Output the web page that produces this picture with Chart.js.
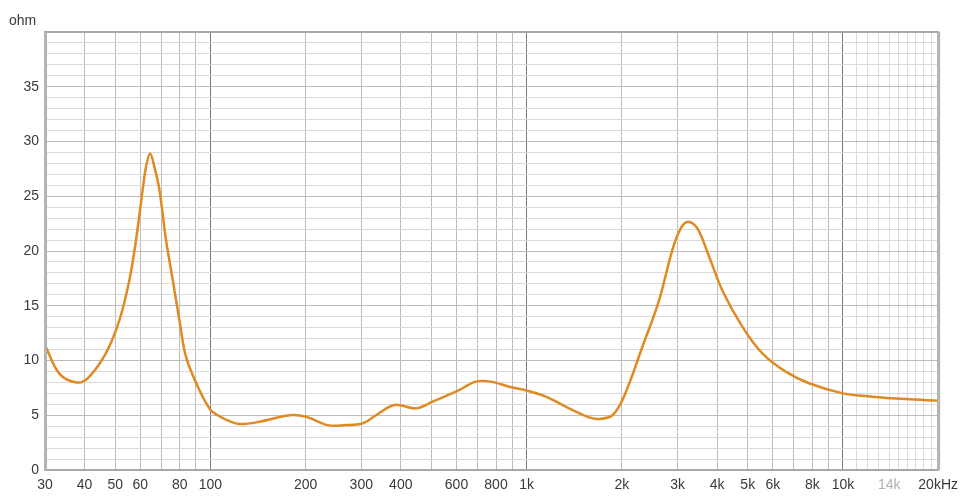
<!DOCTYPE html>
<html>
<head>
<meta charset="utf-8">
<script src="https://cdn.jsdelivr.net/npm/chart.js@4"></script>
<style>
  html, body { margin: 0; padding: 0; background: #fff; }
  #wrap { width: 965px; height: 496px; position: relative; }
</style>
</head>
<body>
<div id="wrap"><canvas id="impedanceChart" width="965" height="496"></canvas></div>
<script>
// impedance curve (Hz, ohm)
const freqs = [30, 33.3, 37.7, 41, 46.8, 51.6, 55.5, 58.2, 61.1, 62.6, 64.5, 66.5, 69, 72.4, 76, 79.8, 83.8, 92.3,
    100, 105.5, 112, 123.5, 142.9, 177.7, 200.7, 234.8, 268, 302.8, 334, 381.6, 446.8, 504, 597.6, 691, 770.8, 880,
    1000, 1150, 1362, 1576, 1695, 1867, 2030, 2323, 2622, 2889, 3070, 3240, 3466, 3773, 4156, 4806, 5560, 6593, 7810,
    10000, 12380, 15800, 20000];
const ohms = [11.4, 8.8, 8.0, 8.4, 10.7, 13.7, 17.4, 21.0, 25.6, 27.7, 28.9, 27.7, 25.6, 21.0, 17.4, 13.7, 10.3, 7.3,
    5.5, 5.0, 4.6, 4.2, 4.4, 5.0, 4.87, 4.1, 4.1, 4.26, 5.0, 5.94, 5.63, 6.24, 7.15, 8.07, 8.07, 7.6,
    7.25, 6.7, 5.63, 4.81, 4.66, 5.0, 6.7, 11.26, 15.5, 20.1, 22.07, 22.68, 22.07, 19.5, 16.4, 13.1, 10.66, 8.98, 7.92,
    7.0, 6.7, 6.48, 6.33];

// x grid lines (1-2-3.. per decade) and the labels shown under them
const xGrid = [30, 40, 50, 60, 70, 80, 90,
    100, 200, 300, 400, 500, 600, 700, 800, 900,
    1000, 2000, 3000, 4000, 5000, 6000, 7000, 8000, 9000,
    10000, 11000, 12000, 13000, 14000, 15000, 16000, 17000, 18000, 19000, 20000];
const xTickValues = [30, 40, 50, 60, 80, 100, 200, 300, 400, 600, 800, 1000, 2000, 3000, 4000, 5000, 6000, 8000, 10000, 14000, 20000];
const xTickLabels = ['30', '40', '50', '60', '80', '100', '200', '300', '400', '600', '800', '1k', '2k', '3k', '4k', '5k', '6k', '8k', '10k', '14k', '20kHz'];
const yTickLabels = ['0', '5', '10', '15', '20', '25', '30', '35'];

const points = freqs.map((f, i) => ({ x: f, y: ohms[i] }));

// frame round the plot and the unit text
const framePlugin = {
    id: 'frame',
    afterDraw(chart) {
        const { ctx, chartArea: a } = chart;
        ctx.save();
        ctx.strokeStyle = '#a8a8a8';
        ctx.lineWidth = 2;
        ctx.strokeRect(a.left, a.top, a.right - a.left, a.bottom - a.top);
        ctx.fillStyle = '#b4b4b4';
        ctx.fillRect(a.left - 1, a.top, 3, a.bottom - a.top);
        ctx.fillRect(a.right - 1, a.top, 3, a.bottom - a.top);
        ctx.fillStyle = '#3a3a3a';
        ctx.font = '14px "Liberation Sans", Arial, sans-serif';
        ctx.textBaseline = 'alphabetic';
        ctx.fillText('ohm', 9, 25);
        ctx.restore();
    }
};

const ctx = document.getElementById('impedanceChart').getContext('2d');
const myChart = new Chart(ctx, {
    type: 'line',
    data: {
        datasets: [{
            data: points,
            borderColor: '#df8a22',
            borderWidth: 2.5,
            pointRadius: 0,
            tension: 0.35,
            fill: false
        }]
    },
    options: {
        responsive: false,
        animation: false,
        devicePixelRatio: 1,
        layout: { padding: { top: 32, right: 26, left: 0, bottom: 0 } },
        plugins: { legend: { display: false }, tooltip: { enabled: false } },
        scales: {
            x: {
                type: 'logarithmic',
                min: 30,
                max: 20000,
                afterBuildTicks: (scale) => {
                    scale.ticks = xGrid.map(v => ({ value: v }));
                },
                afterFit: (scale) => { scale.height = 26; },
                ticks: {
                    autoSkip: false,
                    maxRotation: 0,
                    padding: 7,
                    font: { family: '"Liberation Sans", Arial, sans-serif', size: 14 },
                    color: (c) => c.tick && c.tick.value === 14000 ? '#b0b0b0' : '#3a3a3a',
                    callback: (value) => {
                        const i = xTickValues.indexOf(value);
                        return i >= 0 ? xTickLabels[i] : '';
                    }
                },
                grid: {
                    drawTicks: false,
                    color: (c) => {
                        const v = c.tick ? c.tick.value : 0;
                        if (v === 100 || v === 1000 || v === 10000) return '#7a7a7a';
                        if (v > 10000) return '#dcdcdc';
                        return '#bdbdbd';
                    }
                },
                border: { display: false }
            },
            y: {
                min: 0,
                max: 40,
                afterFit: (scale) => { scale.width = 45; },
                ticks: {
                    stepSize: 1,
                    autoSkip: false,
                    padding: 6,
                    font: { family: '"Liberation Sans", Arial, sans-serif', size: 14 },
                    color: '#3a3a3a',
                    callback: (value) => {
                        if (value % 5 !== 0) return '';
                        const i = value / 5;
                        return i < yTickLabels.length ? yTickLabels[i] : '';
                    }
                },
                grid: {
                    drawTicks: false,
                    color: (c) => c.tick && c.tick.value % 5 === 0 ? '#bcbcbc' : '#dadada'
                },
                border: { display: false }
            }
        }
    },
    plugins: [framePlugin]
});
</script>
</body>
</html>
